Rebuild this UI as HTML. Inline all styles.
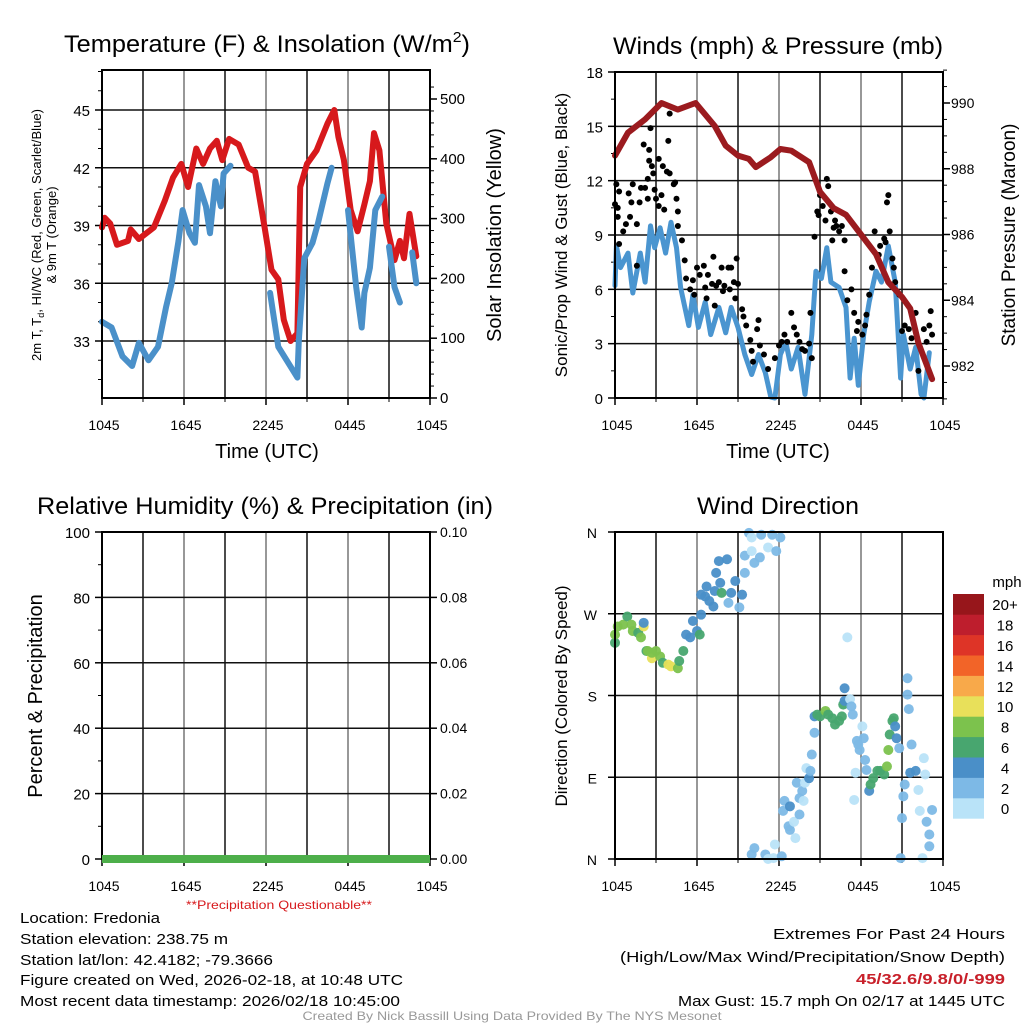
<!DOCTYPE html>
<html><head><meta charset="utf-8"><style>
html,body{margin:0;padding:0;background:#fff;}
svg{display:block;font-family:"Liberation Sans",sans-serif;}
</style></head><body>
<svg id="root" width="1024" height="1024" viewBox="0 0 1024 1024" xmlns="http://www.w3.org/2000/svg">
<g id="p1"></g>
<g id="p2"></g>
<g id="p3"></g>
<g id="p4"></g>
<g id="txt" font-size="15" fill="#000">
<text x="20" y="923" textLength="140" lengthAdjust="spacingAndGlyphs">Location: Fredonia</text>
<text x="20" y="944" textLength="208" lengthAdjust="spacingAndGlyphs">Station elevation: 238.75 m</text>
<text x="20" y="965" textLength="253" lengthAdjust="spacingAndGlyphs">Station lat/lon: 42.4182; -79.3666</text>
<text x="20" y="985" textLength="383" lengthAdjust="spacingAndGlyphs">Figure created on Wed, 2026-02-18, at 10:48 UTC</text>
<text x="20" y="1006" textLength="380" lengthAdjust="spacingAndGlyphs">Most recent data timestamp: 2026/02/18 10:45:00</text>
<text x="279" y="909" font-size="12" fill="#d7191c" text-anchor="middle" textLength="186" lengthAdjust="spacingAndGlyphs">**Precipitation Questionable**</text>
<text x="1005" y="939" text-anchor="end" textLength="232" lengthAdjust="spacingAndGlyphs">Extremes For Past 24 Hours</text>
<text x="1005" y="962" text-anchor="end" textLength="385" lengthAdjust="spacingAndGlyphs">(High/Low/Max Wind/Precipitation/Snow Depth)</text>
<text x="1005" y="984" text-anchor="end" font-weight="bold" fill="#c8202a" textLength="149" lengthAdjust="spacingAndGlyphs">45/32.6/9.8/0/-999</text>
<text x="1005" y="1006" text-anchor="end" textLength="327" lengthAdjust="spacingAndGlyphs">Max Gust: 15.7 mph On 02/17 at 1445 UTC</text>
<text x="512" y="1020" font-size="12" fill="#999" text-anchor="middle" textLength="419" lengthAdjust="spacingAndGlyphs">Created By Nick Bassill Using Data Provided By The NYS Mesonet</text>
</g>
</svg>
<script>
// ---- Temperature panel data (hours since 1045 UTC) ----
const tempHours = [0,0.2,0.6,1.1,1.9,2.1,2.7,3.8,4.6,5.2,5.8,6.3,6.9,7.4,7.9,8.4,8.8,9.3,10.0,10.7,11.2,11.9,12.4,12.9,13.3,13.8,14.3,14.5,15.0,15.7,16.5,17.0,17.3,17.7,18.2,18.7,19.2,19.6,19.9,20.3,20.8,21.4,21.8,22.1,22.5,23.0];
const tempValues = [38.9,39.4,39.1,38.0,38.2,38.8,38.3,38.9,40.3,41.5,42.2,41.0,43.0,42.2,43.0,43.4,42.4,43.5,43.2,42.0,41.8,38.9,36.7,36.2,34.1,33.0,33.4,41.0,42.2,42.9,44.3,45.0,43.6,42.4,39.8,38.7,40.1,41.3,43.8,42.9,39.1,37.2,38.2,37.3,39.6,37.4];
const dewHours = [0,0.7,1.5,2.2,2.7,3.4,4.1,4.7,5.1,5.6,5.9,6.4,6.8,7.1,7.6,7.9,8.3,8.7,8.9,9.4,9.5,12.3,12.9,14.3,14.4,14.8,15.4,15.8,16.5,16.8,16.9,18.0,18.6,19.0,19.2,19.6,20.0,20.5,20.6,21.0,21.4,21.8,21.9,22.7,23.0];
const dewValues = [34.0,33.7,32.2,31.7,32.9,32.0,32.7,34.8,36.0,38.2,39.8,38.6,38.1,41.1,40.0,38.6,41.3,40.0,41.7,42.1,null,35.5,32.7,31.1,33.0,37.3,38.1,39.1,41.2,42.0,null,39.8,35.8,33.7,35.5,36.8,39.8,40.5,null,37.9,35.8,35.0,null,37.6,36.0];
const tempTicks = [33,36,39,42,45];
const insolTicks = [0,100,200,300,400,500];
const timeTicks = ["1045","1645","2245","0445","1045"];
// ---- Winds panel data ----
const presHours = [0,0.95,2.2,3.4,4.6,5.9,7.3,8.1,9.0,9.8,10.3,11.4,12.1,12.9,14.2,15.0,16.0,16.9,18.0,19.1,20.0,21.0,21.6,22.2,23.2];
const presValues = [988.4,989.1,989.5,990.0,989.8,990.0,989.3,988.7,988.4,988.3,988.05,988.35,988.6,988.55,988.2,987.3,986.8,986.6,986.0,985.4,984.55,984.1,983.75,982.7,981.6];
const windHours = [0,0.1,0.4,0.95,1.3,1.85,2.2,2.6,2.9,3.3,3.7,4.1,4.5,4.8,5.4,5.7,6.1,6.6,7.0,7.6,8.1,8.5,9.0,9.5,10.0,10.5,11.0,11.4,11.7,12.1,12.5,12.9,13.4,13.9,14.4,14.7,15.1,15.5,15.8,16.4,16.9,17.2,17.5,17.8,18.2,18.6,19.1,19.5,20.0,20.5,20.9,21.1,21.6,22.0,22.4,22.6,23.0];
const windValues = [6.2,8.4,7.2,8.0,5.8,8.0,6.4,9.5,8.3,9.4,8.0,9.7,8.3,6.1,4.0,5.7,3.9,5.3,3.5,5.0,3.6,5.0,3.9,2.4,1.3,2.4,1.4,0.05,0,2.4,3.1,1.6,2.8,0.2,3.5,7.0,6.6,8.3,6.4,6.1,5.0,1.1,3.3,0.7,3.5,5.3,7.0,6.4,8.4,6.4,1.1,3.5,1.6,2.8,0.2,0,2.5];
const gustHours = [0.1,0,0.2,0.3,0.2,0.3,0.6,0.8,1.0,1.1,1.2,1.3,1.6,1.6,1.8,1.9,2.1,2.2,2.4,2.4,2.5,2.5,2.6,2.7,2.8,2.9,3.0,3.2,3.2,3.4,3.5,3.6,3.8,3.9,4.0,4.0,4.3,4.4,4.5,4.6,4.6,4.9,5.1,5.2,5.5,5.7,5.8,6.0,6.2,6.5,6.6,6.7,6.8,7.1,7.2,7.3,7.4,7.6,7.8,7.9,8.0,8.3,8.4,8.5,8.7,8.8,8.9,9.0,9.3,9.4,9.6,9.9,10.0,10.1,10.4,10.5,10.6,10.9,11.2,11.7,12.0,12.2,12.4,12.6,12.9,13.1,13.3,13.5,13.7,13.9,14.2,14.3,14.4,14.6,14.8,14.9,15.0,15.2,15.4,15.5,15.6,15.8,15.9,16.0,16.1,16.2,16.4,16.6,16.8,16.8,17.0,17.3,17.5,17.7,17.8,18.1,18.3,18.4,18.6,18.8,19.0,19.3,19.4,19.7,19.8,19.9,20.0,20.1,20.3,20.4,20.5,20.8,21.0,21.2,21.5,21.7,22.0,22.2,22.6,22.8,23.0,23.1,23.2];
const gustValues = [11.8,10.7,10.5,11.4,10.0,8.5,9.2,9.6,11.3,10.0,10.8,11.8,9.6,7.3,10.8,11.6,14.0,11.6,11.0,12.1,13.1,13.7,14.9,12.8,12.4,11.5,11.0,10.6,13.2,11.2,12.8,10.4,12.5,14.2,15.7,12.4,11.8,11.9,11.0,10.3,9.5,8.7,7.6,6.6,6.0,6.5,5.7,7.2,6.8,7.3,6.1,5.5,6.8,6.3,7.8,5.1,6.2,6.4,7.2,5.9,6.2,7.2,6.0,7.2,6.4,5.5,7.7,6.3,4.9,4.5,4.0,3.2,2.6,2.0,3.8,4.3,2.9,2.4,1.6,2.2,2.9,3.1,3.5,3.1,4.7,3.9,3.5,3.1,2.7,2.6,3.0,4.7,2.2,8.9,10.3,10.1,11.2,10.6,9.8,12.1,11.7,10.3,8.7,9.4,9.8,9.5,9.2,9.5,8.7,7.0,5.4,6.0,4.7,3.7,4.2,3.5,4.0,4.6,5.7,7.2,9.2,7.9,8.4,8.8,8.6,10.8,11.2,9.2,7.7,7.2,6.4,5.7,3.7,4.0,3.8,3.3,4.7,1.5,3.8,3.1,4.0,4.8,3.5];
const windTicks = [0,3,6,9,12,15,18];
const presTicks = [982,984,986,988,990];
// ---- Humidity / precip ----
const rhTicks = [0,20,40,60,80,100];
const precipTicks = ["0.00","0.02","0.04","0.06","0.08","0.10"];
const precipHours = [0,24];
const precipValues = [0,0];
// ---- Wind direction ----
const dirHours = [0,0,0.2,0.6,0.9,1.2,1.3,1.7,1.9,2.1,2.1,2.3,2.4,2.7,2.7,3.0,3.3,3.5,3.9,4.1,4.6,4.7,5.0,5.2,5.5,5.7,6.0,6.2,6.3,6.3,6.6,6.7,6.9,7.2,7.3,7.4,7.6,7.7,7.8,8.2,8.3,8.5,8.8,9.1,9.3,9.5,9.5,9.8,10.0,10.0,10.2,10.6,10.7,11.2,11.5,11.8,12.1,
 10.0,10.2,11.0,11.2,11.6,11.7,12.2,12.3,12.4,12.8,12.7,12.8,13.1,13.2,13.3,13.5,13.5,13.7,13.8,13.9,14.0,14.2,14.3,14.4,14.6,14.6,14.8,15.0,15.4,15.6,15.9,16.1,16.4,16.6,16.7,16.8,16.8,17.0,17.2,17.3,17.4,17.5,17.6,17.7,17.8,17.9,18.1,18.2,18.3,18.4,18.6,18.7,18.9,19.2,19.4,19.7,19.9,20.0,20.1,20.3,20.4,20.5,20.6,20.8,20.9,21.0,21.1,21.2,21.4,21.4,21.5,21.6,21.7,22.0,22.2,22.3,22.5,22.6,22.7,22.8,23.0,23.0,23.2];
const dirValues = [238,247,256,258,267,258,251,249,244,256,260,229,229,221,227,229,223,216,214,212,210,218,229,247,244,262,251,247,269,291,289,300,284,278,295,315,328,304,293,330,282,293,306,277,291,315,334,359,354,339,326,332,357,343,357,339,354,
 5,12,5,0,1,16,3,53,64,58,36,32,41,23,84,67,49,75,64,84,100,89,97,115,139,157,159,157,163,159,155,148,152,157,170,174,188,244,176,168,159,65,95,130,126,120,146,133,109,98,75,82,89,97,97,93,102,120,137,152,155,146,133,122,1,45,69,82,199,181,165,95,126,97,76,53,1,111,93,41,27,14,54];
const dirSpeeds = [7,9,9,9,7,9,9,7,9,11,5,7,9,11,9,9,9,7,11,11,9,7,7,5,5,5,5,7,5,5,5,5,5,5,5,5,5,5,7,5,3,5,5,3,5,3,3,3,1,1,3,3,3,1,3,3,3,
 3,3,3,1,1,1,3,3,3,5,3,3,1,1,3,3,3,3,1,1,1,5,3,3,3,5,7,7,9,7,7,7,7,7,7,5,5,1,1,3,3,1,1,3,3,3,1,3,3,3,5,7,7,7,7,7,9,9,7,7,7,5,5,3,3,3,3,3,3,3,3,5,3,5,1,1,1,1,1,3,3,3,3];
const dirTicks = ["N","E","S","W","N"];
const speedColors = ["#b9e3f8","#7db9e6","#4a8fc8","#48a66f","#7cc24d","#e8e05a","#f8a94a","#f26428","#de3427","#be1e2d","#97161b"];
const speedLabels = ["0","2","4","6","8","10","12","14","16","18","20+"];

const NS="http://www.w3.org/2000/svg";
function mk(parent,tag,attrs,text){const e=document.createElementNS(NS,tag);for(const k in attrs)e.setAttribute(k,attrs[k]);if(text!==undefined)e.textContent=text;parent.appendChild(e);return e;}
function lin(d0,d1,r0,r1){return v=>r0+(v-d0)*(r1-r0)/(d1-d0);}

function frame(g,L,R,T,B,xS,title,titleLen,titleX){
  for(let h=3;h<24;h+=3){const l=mk(g,'line',{x1:xS(h),x2:xS(h),y1:T,y2:B,stroke:(h%6===0)?'#777':'#111','stroke-width':1.5});
    }
  timeTicks.forEach((t,i)=>{const x=xS(i*6);
    mk(g,'line',{x1:x,x2:x,y1:B,y2:B+7,stroke:'#000','stroke-width':1.5});
    const tx=mk(g,'text',{x:x+2,y:B+32,'font-size':14,'text-anchor':'middle'},t);
    });
  for(let h=3;h<24;h+=6){mk(g,'line',{x1:xS(h),x2:xS(h),y1:B,y2:B+4,stroke:'#000','stroke-width':1});}
  const tt=mk(g,'text',{x:titleX,y:T-18,'font-size':24,'text-anchor':'middle',textLength:titleLen,lengthAdjust:'spacingAndGlyphs'});
  tt.innerHTML=title;
  
}
function border(g,L,R,T,B){const r=mk(g,'rect',{x:L,y:T,width:R-L,height:B-T,fill:'none',stroke:'#000','stroke-width':2});
  }
function hgrid(g,L,R,y){const l=mk(g,'line',{x1:L,x2:R,y1:y,y2:y,stroke:'#111','stroke-width':1.5});
  }
function pathOf(xs,ys,xS,yS){let d='',pen=false;for(let i=0;i<xs.length;i++){if(ys[i]===null){pen=false;continue;}
  d+=(pen?'L':'M')+xS(xs[i]).toFixed(1)+','+yS(ys[i]).toFixed(1);pen=true;}return d;}

// ===== Panel 1 =====
(function(){
  const g=document.getElementById('p1');const L=102,R=430,T=70,B=398;
  const xS=lin(0,24,L,R);const yS=lin(33,45,341,110);const yR=lin(0,500,398,99);
  frame(g,L,R,T,B,xS,'Temperature (F) &amp; Insolation (W/m<tspan font-size="15" dy="-10">2</tspan><tspan dy="10">)</tspan>',406,267);
  tempTicks.forEach(v=>{hgrid(g,L,R,yS(v));mk(g,'line',{x1:L-7,x2:L,y1:yS(v),y2:yS(v),stroke:'#000','stroke-width':1.5});
    const t=mk(g,'text',{x:L-12,y:yS(v)+6,'font-size':15,'text-anchor':'end'},String(v));
    });
  for(let v=31;v<=47;v++){if(v%3)mk(g,'line',{x1:L-4,x2:L,y1:yS(v),y2:yS(v),stroke:'#000'});}
  insolTicks.forEach(v=>{mk(g,'line',{x1:R,x2:R+7,y1:yR(v),y2:yR(v),stroke:'#000','stroke-width':1.5});
    const t=mk(g,'text',{x:R+10,y:yR(v)+5,'font-size':15},String(v));
    });
  for(let v=20;v<540;v+=20){if(v%100)mk(g,'line',{x1:R,x2:R+4,y1:yR(v),y2:yR(v),stroke:'#000'});}
  const p1=mk(g,'path',{d:pathOf(tempHours,tempValues,xS,yS),fill:'none',stroke:'#d7191c','stroke-width':6,'stroke-linejoin':'round','stroke-linecap':'round'});
  
  const p2=mk(g,'path',{d:pathOf(dewHours,dewValues,xS,yS),fill:'none',stroke:'#4a90c9','stroke-width':6,'stroke-linejoin':'round','stroke-linecap':'round'});
  
  border(g,L,R,T,B);
  const a=mk(g,'text',{transform:'translate(41,235) rotate(-90)','font-size':13,'text-anchor':'middle',textLength:252,lengthAdjust:'spacingAndGlyphs'});
  a.innerHTML='2m T, T<tspan font-size="9" dy="3">d</tspan><tspan dy="-3">, HI/WC (Red, Green, Scarlet/Blue)</tspan>';
  
  const a2=mk(g,'text',{transform:'translate(56,235) rotate(-90)','font-size':13,'text-anchor':'middle'},'& 9m T (Orange)');
  
  const a3=mk(g,'text',{transform:'translate(501,235) rotate(-90)','font-size':20,'text-anchor':'middle'},'Solar Insolation (Yellow)');
  
  const xt=mk(g,'text',{x:267,y:458,'font-size':20,'text-anchor':'middle'},'Time (UTC)');
  
})();

// ===== Panel 2 =====
(function(){
  const g=document.getElementById('p2');const L=615,R=943,T=72,B=398;
  const xS=lin(0,24,L,R);const yS=lin(0,18,398,72);const yP=lin(982,990,366,103);
  frame(g,L,R,T,B,xS,'Winds (mph) &amp; Pressure (mb)',330,778);
  windTicks.forEach(v=>{hgrid(g,L,R,yS(v));mk(g,'line',{x1:L-7,x2:L,y1:yS(v),y2:yS(v),stroke:'#000','stroke-width':1.5});
    const t=mk(g,'text',{x:L-12,y:yS(v)+6,'font-size':15,'text-anchor':'end'},String(v));
    });
  for(let v=1.5;v<18;v+=3)mk(g,'line',{x1:L-4,x2:L,y1:yS(v),y2:yS(v),stroke:'#000'});
  presTicks.forEach(v=>{mk(g,'line',{x1:R,x2:R+7,y1:yP(v),y2:yP(v),stroke:'#000','stroke-width':1.5});
    const t=mk(g,'text',{x:R+8,y:yP(v)+5,'font-size':14},String(v));
    });
  for(let v=981;v<=991;v+=0.5){if(v%2)mk(g,'line',{x1:R,x2:R+4,y1:yP(v),y2:yP(v),stroke:'#000'});}
  const pw=mk(g,'path',{d:pathOf(windHours,windValues,xS,yS),fill:'none',stroke:'#4a95d0','stroke-width':5,'stroke-linejoin':'round','stroke-linecap':'round'});
  
  gustHours.forEach((h,i)=>{const c=mk(g,'circle',{cx:xS(h),cy:yS(gustValues[i]),r:3,fill:'#000'});
    });
  const pp=mk(g,'path',{d:pathOf(presHours,presValues,xS,yP),fill:'none',stroke:'#9b1b1f','stroke-width':6,'stroke-linejoin':'round','stroke-linecap':'round'});
  
  border(g,L,R,T,B);
  const a=mk(g,'text',{transform:'translate(567,235) rotate(-90)','font-size':17,'text-anchor':'middle'},'Sonic/Prop Wind & Gust (Blue, Black)');
  
  const a3=mk(g,'text',{transform:'translate(1015,235) rotate(-90)','font-size':19,'text-anchor':'middle'},'Station Pressure (Maroon)');
  
  const xt=mk(g,'text',{x:778,y:458,'font-size':20,'text-anchor':'middle'},'Time (UTC)');
  
})();

// ===== Panel 3 =====
(function(){
  const g=document.getElementById('p3');const L=102,R=430,T=532,B=859;
  const xS=lin(0,24,L,R);const yS=lin(0,100,859,532);const yR=lin(0,0.1,859,532);
  frame(g,L,R,T,B,xS,'Relative Humidity (%) &amp; Precipitation (in)',456,265);
  rhTicks.forEach(v=>{hgrid(g,L,R,yS(v));mk(g,'line',{x1:L-7,x2:L,y1:yS(v),y2:yS(v),stroke:'#000','stroke-width':1.5});
    const t=mk(g,'text',{x:L-12,y:yS(v)+6,'font-size':15,'text-anchor':'end'},String(v));
    });
  for(let v=10;v<100;v+=20)mk(g,'line',{x1:L-4,x2:L,y1:yS(v),y2:yS(v),stroke:'#000'});
  precipTicks.forEach(s=>{const v=parseFloat(s);mk(g,'line',{x1:R,x2:R+7,y1:yR(v),y2:yR(v),stroke:'#000','stroke-width':1.5});
    const t=mk(g,'text',{x:R+10,y:yR(v)+5,'font-size':14},s);
    });
  border(g,L,R,T,B);
  const pl=mk(g,'path',{d:pathOf(precipHours,precipValues,xS,yR),fill:'none',stroke:'#4daf4a','stroke-width':8});
  
  const a=mk(g,'text',{transform:'translate(42,696) rotate(-90)','font-size':20,'text-anchor':'middle'},'Percent & Precipitation');
  
})();

// ===== Panel 4 =====
(function(){
  const g=document.getElementById('p4');const L=615,R=943,T=532,B=859;
  const xS=lin(0,24,L,R);const yS=lin(0,360,859,532);
  frame(g,L,R,T,B,xS,'Wind Direction',162,778);
  dirTicks.forEach((s,i)=>{const y=yS(i*90);hgrid(g,L,R,y);mk(g,'line',{x1:L-7,x2:L,y1:y,y2:y,stroke:'#000','stroke-width':1.5});
    const t=mk(g,'text',{x:L-18,y:y+6,'font-size':14,'text-anchor':'end'},s);
    });
  dirHours.forEach((h,i)=>{const bin=Math.min(10,Math.floor(dirSpeeds[i]/2));
    const c=mk(g,'circle',{cx:xS(h),cy:yS(dirValues[i]),r:5,fill:speedColors[bin],'fill-opacity':0.95});
    });
  border(g,L,R,T,B);
  const a=mk(g,'text',{transform:'translate(567,696) rotate(-90)','font-size':17,'text-anchor':'middle'},'Direction (Colored By Speed)');
  
  const cb=mk(g,'g',{});
  const bh=20.4;
  speedColors.forEach((c,i)=>{const y=594+(10-i)*bh;
    const r=mk(cb,'rect',{x:953,y:y,width:31,height:bh+0.3,fill:c});
    
    const t=mk(cb,'text',{x:1005,y:y+bh/2+6,'font-size':15,'text-anchor':'middle'},speedLabels[i]);
    });
  const m=mk(cb,'text',{x:1007,y:587,'font-size':15,'text-anchor':'middle'},'mph');
  
})();
</script>
</body></html>
